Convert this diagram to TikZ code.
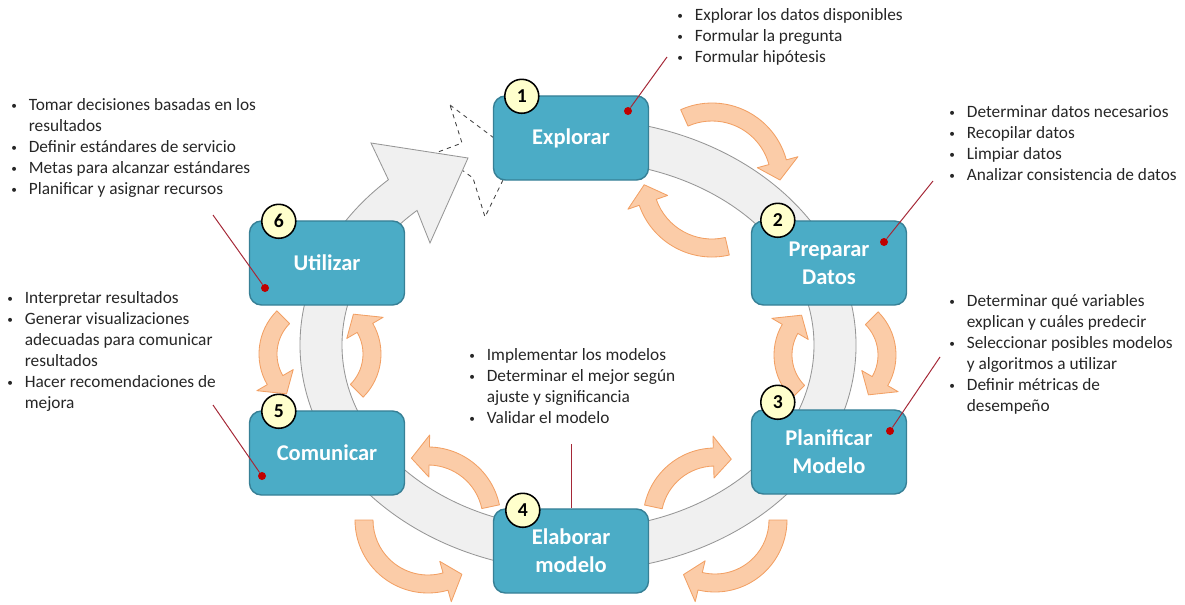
\documentclass[tikz,border=0pt]{standalone}
\usepackage{fontspec}
\setmainfont{Carlito}
\usetikzlibrary{positioning}

\definecolor{stagefill}{RGB}{75,172,198}
\definecolor{stageline}{RGB}{55,128,150}
\definecolor{ringfill}{RGB}{240,240,240}
\definecolor{ringline}{RGB}{150,150,150}
\definecolor{peach}{RGB}{251,204,168}
\definecolor{peachline}{RGB}{242,160,100}
\definecolor{badgefill}{RGB}{255,255,204}
\definecolor{leadred}{RGB}{165,40,55}
\definecolor{dotred}{RGB}{192,0,0}

\newcommand{\lbul}{\makebox[12.5pt][l]{\raisebox{0.6pt}{\footnotesize\textbullet}}}
\newcommand{\lcont}{\hspace*{12.5pt}}

% curved peach arrow: center, radius, tail angle, tip angle
\newcommand{\cycarrow}[4]{%
  \pgfmathsetmacro{\cyhb}{#4-((#4>#3)?1:-1)*18/#2*57.3}%
  \pgfmathsetmacro{\cyro}{#2+9}\pgfmathsetmacro{\cyri}{#2-9}%
  \pgfmathsetmacro{\cyrh}{#2+21}\pgfmathsetmacro{\cyrl}{#2-21}%
  \draw[cyc] ([shift={(#1)}]#3:\cyro) arc[start angle=#3, end angle=\cyhb, radius=\cyro]
    -- ([shift={(#1)}]\cyhb:\cyrh) -- ([shift={(#1)}]#4:#2) -- ([shift={(#1)}]\cyhb:\cyrl)
    -- ([shift={(#1)}]\cyhb:\cyri) arc[start angle=\cyhb, end angle=#3, radius=\cyri] -- cycle;}

\tikzset{
  stage/.style={draw=stageline, fill=stagefill, line width=1pt, rounded corners=0.3cm,
    minimum width=3.875cm, minimum height=2.1cm, align=center, text=white,
    font=\fontsize{16}{20}\selectfont\bfseries},
  badge/.style={circle, draw=black, line width=1.1pt, fill=badgefill, minimum size=0.85cm,
    inner sep=0pt, font=\fontsize{14}{14}\selectfont\bfseries},
  cyc/.style={draw=peachline, fill=peach, line width=0.6pt, line join=round},
  ring/.style={draw=ringline, fill=ringfill, line width=0.6pt},
  burst/.style={draw=black!75, dashed, line width=0.6pt, fill=white},
  lead/.style={draw=leadred, line width=0.7pt},
  dot/.style={circle, fill=dotred, inner sep=0pt, minimum size=0.2cm},
  list/.style={align=left, inner sep=0pt, anchor=north west, text=black!85,
    font=\fontsize{12.3}{14.9}\selectfont},
}

\begin{document}
\begin{tikzpicture}[x=0.025cm, y=-0.025cm]
  \useasboundingbox (0,0) rectangle (1185,605);

  % burst behind the arrow tip
  \draw[burst] (450,105) -- (494,138) -- (520,150) -- (503,180) -- (485,217) -- (473,178)
    -- (455,165) -- (438,152) -- (462,143) -- cycle;

  % big grey cycle
  \draw[ring] ([shift={(578,345)}]-100:278 and 226)
    arc[start angle=-100, end angle=227, x radius=278, y radius=226]
    -- (371,143) -- (468,158) -- (430,243)
    -- ([shift={(578,345)}]227:236 and 184)
    arc[start angle=227, end angle=-100, x radius=236, y radius=184] -- cycle;

  % peach arrow pairs
  \cycarrow{712,180}{68}{-114}{0}
  \cycarrow{712,180}{68}{77}{176}
  \cycarrow{835,355}{52}{135}{230}
  \cycarrow{835,355}{52}{-45}{50}
  \cycarrow{715,520}{63}{192}{285}
  \cycarrow{715,520}{63}{0}{120}
  \cycarrow{428,520}{64}{348}{255}
  \cycarrow{428,520}{64}{180}{58}
  \cycarrow{320,354}{52}{225}{130}
  \cycarrow{320,354}{52}{45}{-50}

  % stages
  \draw (571,138) node[stage] (explo) {Explorar};
  \draw (829,263) node[stage] (prep)  {Preparar\\Datos};
  \draw (829,452) node[stage] (plan)  {Planificar\\Modelo};
  \draw (571,551) node[stage] (elab)  {Elaborar\\modelo};
  \draw (327,453) node[stage] (comu)  {Comunicar};
  \draw (327,263) node[stage] (util)  {Utilizar};

  \draw ([shift={(29,1)}]explo.north west) node[badge] (n1) {1};
  \draw ([shift={(27,0)}]prep.north west)  node[badge] (n2) {2};
  \draw ([shift={(27,-7)}]plan.north west) node[badge] (n3) {3};
  \draw ([shift={(30,2)}]elab.north west)  node[badge] (n4) {4};
  \draw ([shift={(30,1)}]comu.north west)  node[badge] (n5) {5};
  \draw ([shift={(30,1)}]util.north west)  node[badge] (n6) {6};

  % leaders
  \coordinate (e1) at (667,57);
  \coordinate (e2) at (933,181);
  \coordinate (e3) at (940,357);
  \coordinate (e4) at (571,444);
  \coordinate (e5) at (213,405);
  \coordinate (e6) at (213,215);
  \draw (628,111) node[dot] (d1) {};
  \draw (884,242) node[dot] (d2) {};
  \draw (890,431) node[dot] (d3) {};
  \draw (262,476) node[dot] (d5) {};
  \draw (265,288) node[dot] (d6) {};
  \draw[lead] (d1) -- (e1);
  \draw[lead] (d2) -- (e2);
  \draw[lead] (d3) -- (e3);
  \draw[lead] (elab.north) -- (e4);
  \draw[lead] (d5) -- (e5);
  \draw[lead] (d6) -- (e6);

  % task lists
  \node[list] (t1) at (677,8)   {\lbul Explorar los datos disponibles\\\lbul Formular la pregunta\\\lbul Formular hipótesis};
  \node[list] (t2) at (949,105) {\lbul Determinar datos necesarios\\\lbul Recopilar datos\\\lbul Limpiar datos\\\lbul Analizar consistencia de datos};
  \node[list] (t3) at (949,294) {\lbul Determinar qué variables\\\lcont explican y cuáles predecir\\\lbul Seleccionar posibles modelos\\\lcont y algoritmos a utilizar\\\lbul Definir métricas de\\\lcont desempeño};
  \node[list] (t4) at (469,348) {\lbul Implementar los modelos\\\lbul Determinar el mejor según\\\lcont ajuste y significancia\\\lbul Validar el modelo};
  \node[list] (t5) at (7,291)   {\lbul Interpretar resultados\\\lbul Generar visualizaciones\\\lcont adecuadas para comunicar\\\lcont resultados\\\lbul Hacer recomendaciones de\\\lcont mejora};
  \node[list] (t6) at (11,98)   {\lbul Tomar decisiones basadas en los\\\lcont resultados\\\lbul Definir estándares de servicio\\\lbul Metas para alcanzar estándares\\\lbul Planificar y asignar recursos};
\end{tikzpicture}
\end{document}
